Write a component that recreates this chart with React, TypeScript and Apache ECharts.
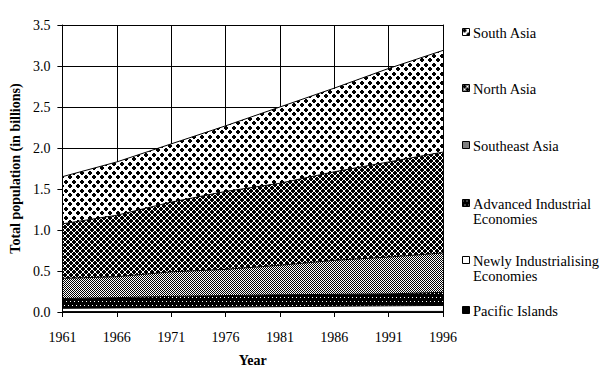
import React, { useEffect, useRef } from "react";
import * as echarts from "echarts";

const years = ["1961", "1966", "1971", "1976", "1981", "1986", "1991", "1996"];
const pacificIslands = [0.005, 0.005, 0.005, 0.006, 0.006, 0.006, 0.007, 0.007];
const newlyIndustrialising = [0.04, 0.045, 0.05, 0.054, 0.059, 0.064, 0.068, 0.073];
const advancedIndustrial = [0.12, 0.125, 0.135, 0.14, 0.145, 0.145, 0.145, 0.16];
const southeastAsia = [0.245, 0.255, 0.3, 0.32, 0.36, 0.415, 0.45, 0.48];
const northAsia = [0.665, 0.75, 0.85, 0.95, 1.0, 1.08, 1.16, 1.23];
const southAsia = [0.575, 0.65, 0.71, 0.8, 0.93, 1.02, 1.14, 1.24];

const Y_MIN = 0;
const Y_MAX = 3.5;
const Y_STEP = 0.5;

const FONT = "'Liberation Serif', 'Times New Roman', serif";

type R = [number, number, number, number];

function makeTile(w: number, h: number, bg: string, fg: string, rects: R[]) {
  const c = document.createElement("canvas");
  c.width = w;
  c.height = h;
  const ctx = c.getContext("2d")!;
  ctx.fillStyle = bg;
  ctx.fillRect(0, 0, w, h);
  ctx.fillStyle = fg;
  for (const [x, y, rw, rh] of rects) {
    for (const dx of [-w, 0, w]) {
      for (const dy of [-h, 0, h]) {
        ctx.fillRect(x + dx, y + dy, rw, rh);
      }
    }
  }
  return { image: c.toDataURL(), repeat: "repeat", imageWidth: w, imageHeight: h } as any;
}

function plus(x: number, y: number): R[] {
  return [
    [x + 1, y, 2, 4],
    [x, y + 1, 4, 2],
  ];
}

export default function App() {
  const ref = useRef<HTMLDivElement>(null);

  useEffect(() => {
    if (!ref.current) return;
    const chart = echarts.init(ref.current, undefined, { renderer: "svg" });

    const patterns = {
      south: makeTile(8, 9, "#fff", "#000", [...plus(0, 0), ...plus(4, 4)]),
      north: makeTile(6, 6, "#fff", "#000", [...plus(0, 0), ...plus(3, 3)]),
      southeast: makeTile(2, 2, "#fff", "#000", [
        [0, 0, 1, 1],
        [1, 1, 1, 1],
      ]),
      advanced: makeTile(4, 8, "#000", "#fff", [
        [0, 1, 1, 1],
        [2, 5, 1, 1],
      ]),
      newly: "#ffffff",
      pacific: "#000000",
    };

    const seriesDefs = [
      { name: "Pacific Islands", lines: ["Pacific Islands"], data: pacificIslands, fill: patterns.pacific },
      { name: "Newly Industrialising Economies", lines: ["Newly Industrialising", "Economies"], data: newlyIndustrialising, fill: patterns.newly },
      { name: "Advanced Industrial Economies", lines: ["Advanced Industrial", "Economies"], data: advancedIndustrial, fill: patterns.advanced },
      { name: "Southeast Asia", lines: ["Southeast Asia"], data: southeastAsia, fill: patterns.southeast },
      { name: "North Asia", lines: ["North Asia"], data: northAsia, fill: patterns.north },
      { name: "South Asia", lines: ["South Asia"], data: southAsia, fill: patterns.south },
    ];

    // legend (top to bottom = reversed stacking order)
    const legendCenters = [32, 88, 145, 203, 260, 310];
    const lineGap = 15;
    const legendItems = seriesDefs.slice().reverse();
    const legendGraphics: any[] = [];
    legendItems.forEach((s, i) => {
      const cy = legendCenters[i];
      legendGraphics.push({
        type: "rect",
        left: 462,
        top: cy - 4,
        shape: { x: 0, y: 0, width: 7, height: 7 },
        style: { fill: s.fill, stroke: "#000", lineWidth: 1 },
        z: 10,
      });
      s.lines.forEach((t, j) => {
        legendGraphics.push({
          type: "text",
          left: 473,
          top: cy - 7 + j * lineGap,
          style: {
            text: t,
            font: `14.5px ${FONT}`,
            fill: "#000",
            lineHeight: 14,
          },
          z: 10,
        });
      });
    });

    const labelStyle = { color: "#000", fontFamily: FONT, fontSize: 14 };
    const nameStyle = { color: "#000", fontFamily: FONT, fontSize: 14, fontWeight: "bold" as const };

    chart.setOption({
      animation: false,
      backgroundColor: "#fff",
      grid: { left: 56, right: 168, top: 25, bottom: 64, containLabel: false },
      xAxis: [
        {
          type: "category",
          data: years,
          boundaryGap: false,
          position: "bottom",
          axisLine: { show: false },
          axisTick: { show: false },
          axisLabel: { show: false },
          splitLine: { show: true, lineStyle: { color: "#000", width: 1 } },
          z: 0,
        },
        {
          type: "category",
          data: years,
          boundaryGap: false,
          position: "bottom",
          axisLine: { show: true, lineStyle: { color: "#000", width: 1 } },
          axisTick: { show: true, inside: false, length: 5, lineStyle: { color: "#000" } },
          axisLabel: { show: true, margin: 18, ...labelStyle },
          splitLine: { show: false },
          name: "Year",
          nameLocation: "middle",
          nameGap: 41,
          nameTextStyle: nameStyle,
          z: 10,
        },
      ],
      yAxis: [
        {
          type: "value",
          min: Y_MIN,
          max: Y_MAX,
          interval: Y_STEP,
          position: "left",
          axisLine: { show: false },
          axisTick: { show: false },
          axisLabel: { show: false },
          splitLine: { show: true, lineStyle: { color: "#000", width: 1 } },
          z: 0,
        },
        {
          type: "value",
          min: Y_MIN,
          max: Y_MAX,
          interval: Y_STEP,
          position: "left",
          axisLine: { show: true, lineStyle: { color: "#000", width: 1 } },
          axisTick: { show: true, inside: false, length: 5, lineStyle: { color: "#000" } },
          axisLabel: {
            show: true,
            margin: 12,
            formatter: (v: number) => v.toFixed(1),
            ...labelStyle,
          },
          splitLine: { show: false },
          name: "Total population (in billions)",
          nameLocation: "middle",
          nameGap: 28,
          nameTextStyle: nameStyle,
          z: 10,
        },
        {
          type: "value",
          min: Y_MIN,
          max: Y_MAX,
          interval: Y_STEP,
          position: "right",
          axisLine: { show: true, lineStyle: { color: "#000", width: 1 } },
          axisTick: { show: false },
          axisLabel: { show: false },
          splitLine: { show: false },
          z: 10,
        },
      ],
      series: seriesDefs.map((s) => ({
        name: s.name,
        type: "line",
        stack: "total",
        xAxisIndex: 0,
        yAxisIndex: 0,
        data: s.data,
        symbol: "none",
        showSymbol: false,
        lineStyle: { color: "#000", width: 1 },
        areaStyle: { color: s.fill, opacity: 1 },
        itemStyle: { color: "#000" },
        z: 2,
      })),
      graphic: legendGraphics,
    });

    return () => chart.dispose();
  }, []);

  return (
    <div
      ref={ref}
      style={{ position: "fixed", left: 0, top: 0, width: 611, height: 376 }}
    />
  );
}
